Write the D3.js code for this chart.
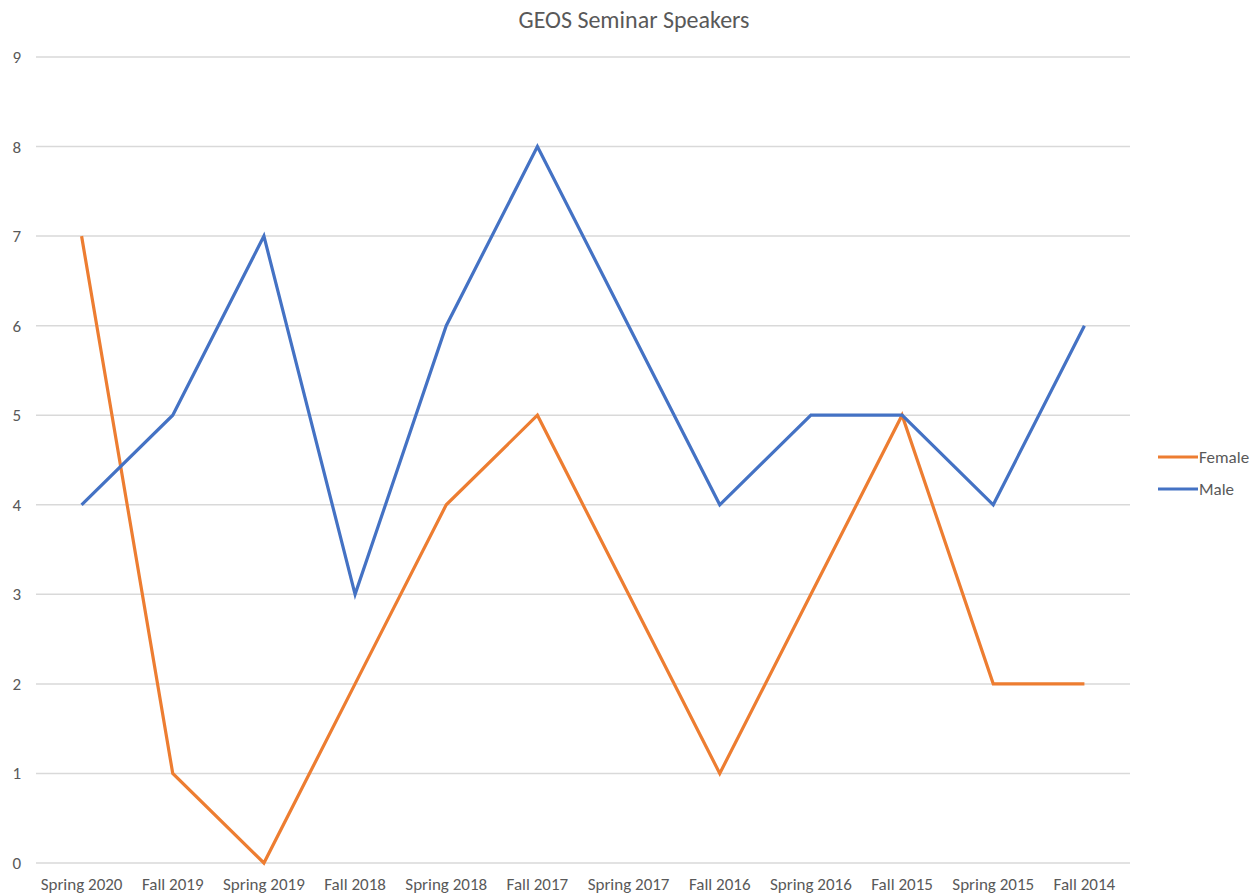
<!DOCTYPE html>
<html>
<head>
<meta charset="utf-8">
<script src="https://cdn.jsdelivr.net/npm/d3@7"></script>
<style>
  body { margin:0; background:#fff; }
  svg text { font-family: Calibri, Carlito, "Open Sans", sans-serif; fill:#595959; }
</style>
</head>
<body>
<svg id="chart" width="1256" height="894"></svg>
<script>
// semesters, newest first as in the sheet
var semesters = ["Spring 2020","Fall 2019","Spring 2019","Fall 2018","Spring 2018","Fall 2017",
                 "Spring 2017","Fall 2016","Spring 2016","Fall 2015","Spring 2015","Fall 2014"];
var female = [7,1,0,2,4,5,3,1,3,5,2,2];
var male   = [4,5,7,3,6,8,6,4,5,5,4,6];
var yTicks = [0,1,2,3,4,5,6,7,8,9];

var series = [
  {name:"Female", vals:female, color:"#ED7D31"},
  {name:"Male",   vals:male,   color:"#4472C4"}
];

var svg = d3.select("#chart");
var pad = {top:57, left:36, right:1130, bottom:863};

var x = d3.scaleBand().domain(semesters).range([pad.left, pad.right]);
var y = d3.scaleLinear().domain([0,9]).range([pad.bottom, pad.top]);

svg.append("text")
  .attr("x", 634).attr("y", 28)
  .attr("text-anchor","middle")
  .style("font-size","24px")
  .text("GEOS Seminar Speakers");

// gridlines
svg.append("g").selectAll("line")
  .data(yTicks)
  .enter().append("line")
  .attr("x1", pad.left).attr("x2", pad.right)
  .attr("y1", function(d){return y(d);}).attr("y2", function(d){return y(d);})
  .attr("stroke","#d9d9d9").attr("stroke-width",1.5);

svg.append("g").selectAll("text")
  .data(yTicks)
  .enter().append("text")
  .attr("x", 21).attr("y", function(d){return y(d)+6;})
  .attr("text-anchor","end")
  .style("font-size","17px")
  .text(function(d){return d;});

svg.append("g").selectAll("text")
  .data(semesters)
  .enter().append("text")
  .attr("x", function(d){return x(d)+x.bandwidth()/2;})
  .attr("y", 890)
  .attr("text-anchor","middle")
  .style("font-size","17px")
  .text(function(d){return d;});

var line = d3.line()
  .x(function(d,i){return x(semesters[i])+x.bandwidth()/2;})
  .y(function(d){return y(d);});

svg.append("g").selectAll("path")
  .data(series)
  .enter().append("path")
  .attr("d", function(s){return line(s.vals);})
  .attr("fill","none")
  .attr("stroke", function(s){return s.color;})
  .attr("stroke-width",3.2)
  .attr("stroke-linejoin","miter");

// legend
var leg = svg.append("g").selectAll("g")
  .data(series)
  .enter().append("g")
  .attr("transform", function(d,i){return "translate(1158," + (457 + i*32) + ")";});
leg.append("line")
  .attr("x1",0).attr("x2",40).attr("y1",0).attr("y2",0)
  .attr("stroke", function(d){return d.color;}).attr("stroke-width",3.2);
leg.append("text")
  .attr("x",41).attr("y",6)
  .style("font-size","17px")
  .text(function(d){return d.name;});
</script>
</body>
</html>
